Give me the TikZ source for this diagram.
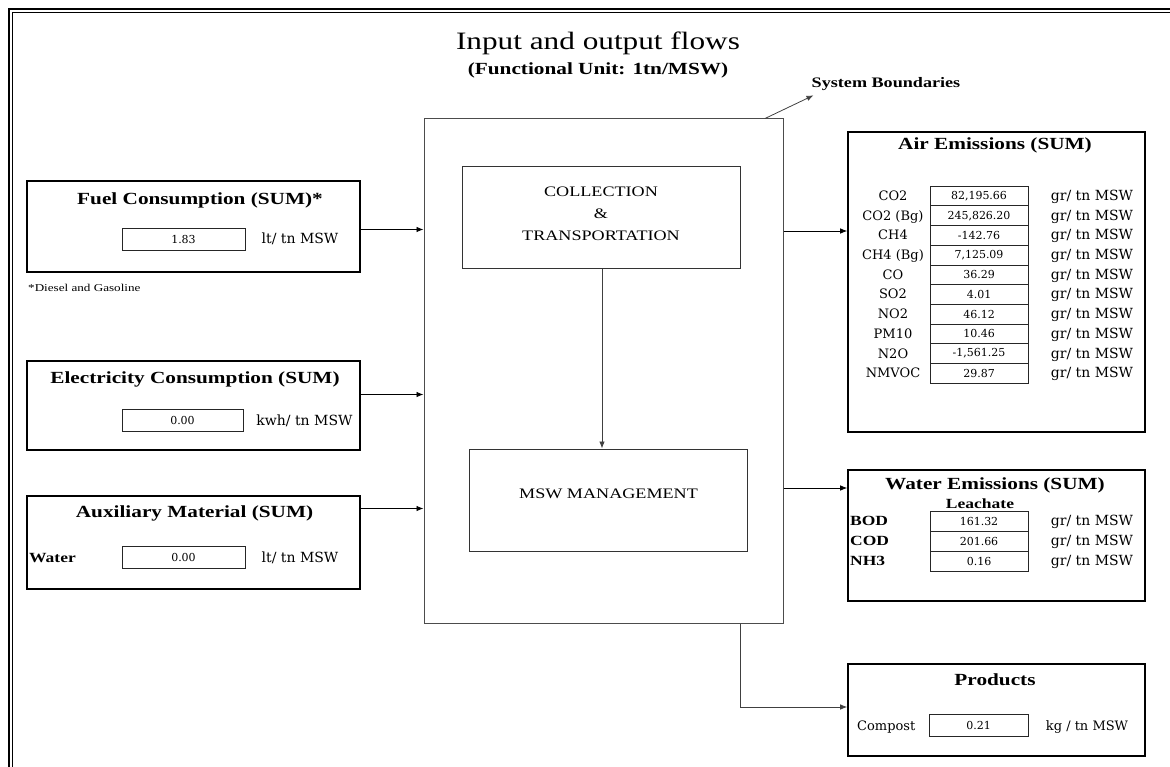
\documentclass[tikz,border=0pt]{standalone}
\usepackage{fontspec}
\setmainfont{Liberation Serif}[FakeStretch=1.25]
\newfontfamily\cen{DejaVu Serif}
\usetikzlibrary{arrows.meta,calc}
\newcommand\myfs[1]{\fontsize{#1}{\fpeval{1.2*#1}}\selectfont}
\begin{document}
\begin{tikzpicture}[x=1pt,y=-1pt,
  inbox/.style={draw=black,line width=1.6pt,inner sep=0pt},
  sysbox/.style={draw=black!70,line width=1pt,inner sep=0pt},
  cell/.style={draw=black!85,line width=0.7pt,inner sep=0pt,font=\cen\myfs{11}},
  arr/.style={-{Latex[length=7pt,width=5.5pt]},line width=0.8pt},
  ttl/.style={font=\myfs{17}\bfseries,inner sep=0pt,anchor=base},
  unit/.style={font=\cen\myfs{14},inner sep=0pt,anchor=base},
  lab/.style={font=\cen\myfs{13},inner sep=0pt,anchor=base},
  bl/.style={font=\myfs{14}\bfseries,inner sep=0pt,anchor=base west},
  txt/.style={inner sep=0pt,anchor=base}]
\useasboundingbox (0,0) rectangle (1170,767);
% page frame
\draw[line width=2pt] (9,767) -- (9,9.5) -- (1170,9.5);
\draw[line width=1pt] (12.5,767) -- (12.5,13) -- (1170,13);
% titles
\node[txt,font=\myfs{25}] (title) at (598,50) {Input and output flows};
\node[txt,font=\myfs{17}\bfseries] (subtitle) at (598,75) {(Functional Unit: 1tn/MSW)};
\node[txt,font=\myfs{14.5}\bfseries] (sbl) at (886,88) {System Boundaries};
% system boundary and processes
\node[sysbox,minimum width=359pt,minimum height=504pt] (sys) at (603.5,371) {};
\node[sysbox,draw=black!80,minimum width=278pt,minimum height=102pt] (coll) at (601,218) {};
\node[txt,font=\myfs{14.5},align=center,anchor=center] (colltxt) at (601,214)
  {COLLECTION\\[4.5pt]\&\\[4.5pt]TRANSPORTATION};
\node[sysbox,draw=black!80,minimum width=278pt,minimum height=102pt] (mgmt) at (608,500) {};
\node[txt,font=\myfs{14.5}] (mgmttxt) at (608.5,498) {MSW MANAGEMENT};
\coordinate (sb) at ([xshift=-18.5pt]sys.north east);
\draw[arr,black!75] (sb) -- ([xshift=2pt,yshift=-4pt]sbl.south west);
\draw[arr,black!75] (coll.south -| 602,0) -- (mgmt.north -| 602,0);
% inputs
\node[inbox,minimum width=333pt,minimum height=91pt] (fuel) at (193.5,226.5) {};
\node[ttl] (fueltt) at (200,205) {Fuel Consumption (SUM)*};
\node[cell,minimum width=123pt,minimum height=22pt] (fuelv) at (183.5,239) {1.83};
\node[unit] (fuelu) at (300,244) {lt/ tn MSW};
\node[txt,font=\myfs{10.5},anchor=base west] (fnote) at (28,292) {*Diesel and Gasoline};

\node[inbox,minimum width=333pt,minimum height=89pt] (elec) at (193.5,405.5) {};
\node[ttl] (electt) at (195,383) {Electricity Consumption (SUM)};
\node[cell,minimum width=121pt,minimum height=22pt] (elecv) at (182.5,420) {0.00};
\node[unit] (elecu) at (304.5,425) {kwh/ tn MSW};

\node[inbox,minimum width=333pt,minimum height=93pt] (aux) at (193.5,542.5) {};
\node[ttl] (auxtt) at (194.5,517) {Auxiliary Material (SUM)};
\node[bl] (water) at (29,562) {Water};
\node[cell,minimum width=123pt,minimum height=22pt] (auxv) at (183.5,557) {0.00};
\node[unit] (auxu) at (300,562) {lt/ tn MSW};

\draw[arr] ([yshift=-3pt]fuel.east) -- ([yshift=-3pt]fuel.east -| sys.west);
\draw[arr] ([yshift=11pt]elec.east) -- ([yshift=11pt]elec.east -| sys.west);
\draw[arr] ([yshift=34pt]aux.east) -- ([yshift=34pt]aux.east -| sys.west);
% air emissions
\node[inbox,minimum width=297pt,minimum height=300pt] (air) at (996.5,282) {};
\node[ttl] (airtt) at (995,150) {Air Emissions (SUM)};
\foreach \lab/\v [count=\i from 0] in {CO2/{82,195.66},{CO2 (Bg)}/{245,826.20},CH4/{-142.76},{CH4 (Bg)}/{7,125.09},CO/{36.29},SO2/{4.01},NO2/{46.12},PM10/{10.46},N2O/{-1,561.25},NMVOC/{29.87}}{
  \node[cell,minimum width=98pt,minimum height=19.7pt] (a\i) at (979,{196+19.7*\i}) {\v};
  \node[lab] (al\i) at (893,{200.5+19.7*\i}) {\lab};
  \node[unit] (au\i) at (1092,{200.5+19.7*\i}) {gr/ tn MSW};
}
\coordinate (airin) at ([yshift=51pt]air.west);
\draw[arr] (sys.east |- airin) -- (airin);
% water emissions
\node[inbox,minimum width=297pt,minimum height=131pt] (wat) at (996.5,535.5) {};
\node[ttl] (wattt) at (995,489) {Water Emissions (SUM)};
\node[txt,font=\myfs{14}\bfseries] (leach) at (980,508) {Leachate};
\foreach \lab/\v [count=\i from 0] in {BOD/{161.32},COD/{201.66},NH3/{0.16}}{
  \node[cell,minimum width=98pt,minimum height=20pt] (w\i) at (979,{521+20*\i}) {\v};
  \node[bl] (wl\i) at (850,{525+20*\i}) {\lab};
  \node[unit] (wu\i) at (1092,{525.5+20*\i}) {gr/ tn MSW};
}
\coordinate (watin) at ([yshift=47.5pt]wat.west);
\draw[arr] (sys.east |- watin) -- (watin);
% products
\node[inbox,minimum width=297pt,minimum height=92pt] (prod) at (996.5,710) {};
\node[ttl] (prodtt) at (995,685) {Products};
\node[txt,font=\cen\myfs{13},anchor=base west] (comp) at (857,730) {Compost};
\node[cell,minimum width=99pt,minimum height=22pt] (prodv) at (978.5,725) {0.21};
\node[txt,font=\cen\myfs{13}] (produ) at (1087,730) {kg / tn MSW};
\draw[arr,black!75] ([xshift=136.5pt]sys.south) |- ([yshift=3pt]prod.west);
\end{tikzpicture}
\end{document}
